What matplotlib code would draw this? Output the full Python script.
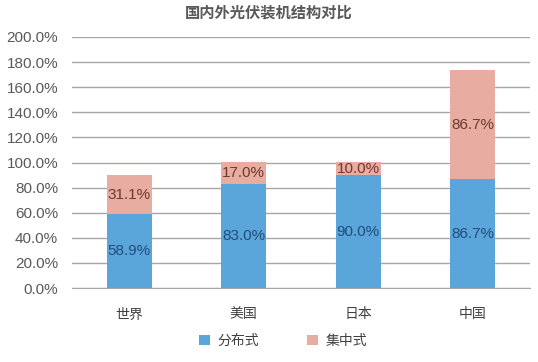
import matplotlib
matplotlib.use('Agg')
import matplotlib.pyplot as plt
import numpy as np

plt.rcParams['font.family'] = ['Liberation Sans', 'Noto Sans CJK SC', 'DejaVu Sans']

# data
categories = ['世界', '美国', '日本', '中国']
distributed = [58.9, 83.0, 90.0, 86.7]   # 分布式
centralized = [31.1, 17.0, 10.0, 86.7]   # 集中式
series_names = ['分布式', '集中式']
yticks = [0, 20, 40, 60, 80, 100, 120, 140, 160, 180, 200]

blue = '#5AA5DA'
salmon = '#E8ADA0'

fig = plt.figure(figsize=(5.38, 3.62), dpi=100)
ax = fig.add_axes([72 / 538, 1 - 288 / 362, (530 - 72) / 538, (288 - 37) / 362])

x = np.arange(len(categories))
b1 = ax.bar(x, distributed, width=0.39, color=blue, zorder=2, label=series_names[0])
b2 = ax.bar(x, centralized, width=0.39, bottom=distributed, color=salmon, zorder=2,
            label=series_names[1])

for i in range(len(categories)):
    ax.text(x[i], distributed[i] / 2, f'{distributed[i]:.1f}%', ha='center', va='center',
            fontsize=11, color='#1F4E79', zorder=3)
    ax.text(x[i], distributed[i] + centralized[i] / 2, f'{centralized[i]:.1f}%',
            ha='center', va='center', fontsize=11, color='#6B3A30', zorder=3)

ax.set_xlim(-0.5, len(categories) - 0.5)
ax.set_ylim(0, 200)
ax.set_yticks(yticks)
ax.set_yticklabels([f'{v:.1f}%' for v in yticks], fontsize=11, color='#595959')
ax.set_xticks(x)
ax.set_xticklabels(categories, fontsize=10, color='#404040')
ax.tick_params(axis='both', length=0)
ax.tick_params(axis='y', pad=10)
ax.tick_params(axis='x', pad=14)
ax.yaxis.grid(True, color='#A6A6A6', linewidth=1, zorder=0)
for s in ['left', 'right', 'top']:
    ax.spines[s].set_visible(False)
ax.spines['bottom'].set_color('#A6A6A6')

fig.text(0.5, 1 - 13 / 362, '国内外光伏装机结构对比', ha='center', va='center',
         fontsize=11, fontweight='bold', color='#595959')

leg = fig.legend(handles=[b1, b2], loc='center', bbox_to_anchor=(283 / 538, 1 - 341 / 362),
                 ncol=2, frameon=False, fontsize=10, handlelength=0.8, handleheight=0.8,
                 columnspacing=3.5, handletextpad=0.5)
for t in leg.get_texts():
    t.set_color('#404040')

fig.savefig('out.png', dpi=100)
